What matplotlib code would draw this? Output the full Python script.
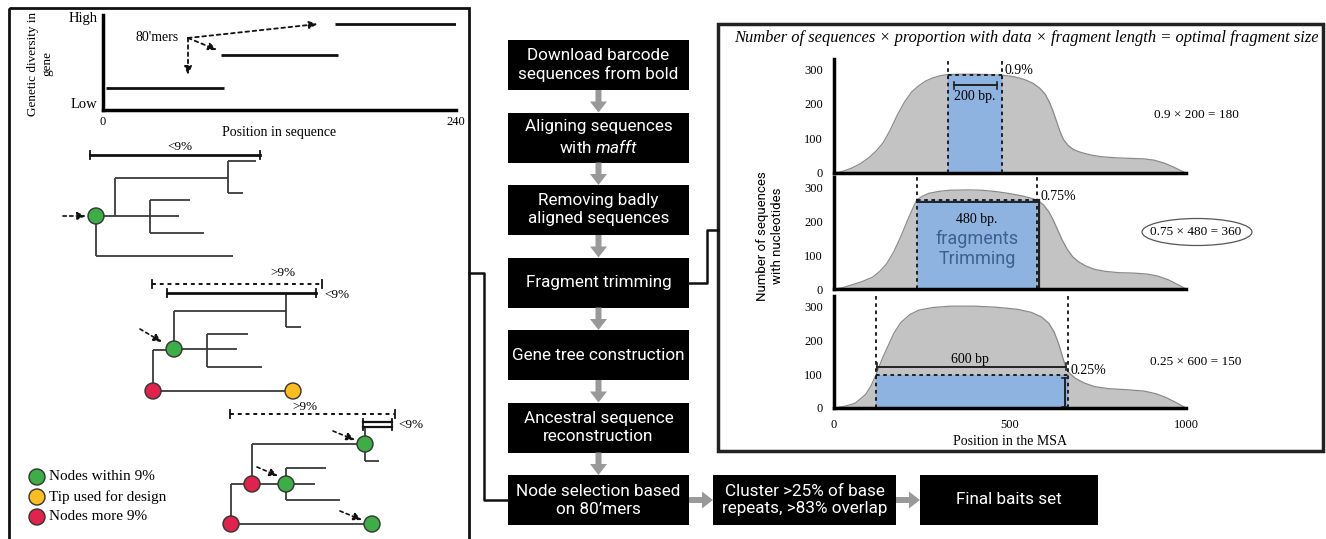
import matplotlib
matplotlib.use("Agg")
import matplotlib.pyplot as plt
from matplotlib.patches import Rectangle, Circle, Ellipse

W, H = 1326, 539
SERIF = "Liberation Serif"
SANS = "Roboto"

plt.rcParams["font.family"] = [SERIF, "DejaVu Serif"]
plt.rcParams["mathtext.fontset"] = "custom"
plt.rcParams["mathtext.rm"] = SANS
plt.rcParams["mathtext.it"] = SANS + ":italic"

# ---------------- data ----------------
# top-left: genetic diversity of three 80'mers along a 240 bp sequence
SEG_START = [2, 80, 158]
SEG_END = [82, 160, 240]
SEG_LEVEL = [0.23, 0.58, 0.905]
SEQ_TICKS = [0, 240]

# coverage curves (position in MSA, number of sequences)
POS_A = [0, 25, 50, 75, 100, 120, 140, 160, 180, 200, 220, 240, 260, 280, 300, 322, 360, 400,
         440, 478, 510, 540, 565, 585, 600, 612, 622, 632, 642, 652, 665, 680, 700, 730, 760,
         800, 850, 880, 910, 940, 965, 985, 1000]
CNT_A = [0, 5, 14, 27, 45, 64, 88, 125, 168, 205, 234, 252, 266, 275, 281, 285, 286, 286,
         285, 283, 279, 271, 260, 245, 228, 205, 180, 150, 120, 97, 80, 68, 60, 52, 47,
         44, 42, 41, 37, 28, 17, 7, 0]
POS_B = [0, 25, 50, 80, 110, 130, 150, 170, 190, 210, 225, 235, 250, 270, 300, 330, 380, 420,
         460, 500, 540, 578, 595, 610, 622, 635, 648, 662, 678, 695, 715, 740, 770, 810, 850,
         890, 920, 950, 975, 1000]
CNT_B = [0, 4, 12, 22, 35, 52, 75, 110, 155, 205, 240, 262, 273, 282, 288, 291, 292, 291,
         287, 281, 273, 262, 248, 228, 205, 175, 145, 118, 95, 80, 68, 58, 52, 48, 47,
         44, 38, 27, 14, 0]
POS_C = [0, 30, 60, 90, 105, 119, 135, 150, 170, 190, 215, 240, 280, 330, 400, 460, 520, 560,
         590, 610, 625, 638, 648, 657, 667, 685, 710, 740, 780, 830, 880, 915, 945, 970, 1000]
CNT_C = [0, 5, 14, 40, 65, 97, 140, 175, 220, 252, 275, 288, 296, 300, 300, 297, 291, 282,
         268, 250, 225, 190, 155, 125, 105, 88, 74, 63, 57, 54, 50, 42, 30, 17, 0]

# trimming windows: start, end, proportion height
WIN_START = [323, 235, 119]
WIN_END = [476, 578, 665]
WIN_TOP = [285, 262, 97]
WIN_LEN = ["200 bp.", "480 bp.", "600 bp"]
WIN_PROP = ["0.9%", "0.75%", "0.25%"]
EQUATIONS = ["0.9 × 200 = 180", "0.75 × 480 = 360", "0.25 × 600 = 150"]
MSA_TICKS = [0, 500, 1000]
COUNT_TICKS = [0, 100, 200, 300]

# flowchart
STEPS = ["Download barcode\nsequences from bold",
         "Aligning sequences\nwith $\\mathit{mafft}$",
         "Removing badly\naligned sequences",
         "Fragment trimming",
         "Gene tree construction",
         "Ancestral sequence\nreconstruction",
         "Node selection based\non 80\u2019mers"]
TAIL_STEPS = ["Cluster >25% of base\nrepeats, >83% overlap", "Final baits set"]

# gene trees (pixel layout of the schematic): branches, nodes, pointer arrows
TREE_EDGES = [
    # tree 1
    (96, 216, 179, 216), (115, 178, 115, 216), (115, 178, 228, 178), (228, 161, 228, 193),
    (228, 161, 256, 161), (228, 193, 243, 193), (150, 200, 150, 233), (150, 200, 190, 200),
    (150, 233, 204, 233), (96, 216, 96, 256), (96, 256, 233, 256),
    # tree 2
    (286, 293, 286, 327), (286, 327, 301, 327), (174, 311, 286, 311), (174, 311, 174, 349),
    (174, 349, 237, 349), (207, 334, 207, 367), (207, 334, 248, 334), (207, 367, 262, 367),
    (153, 350, 174, 350), (153, 350, 153, 391), (153, 391, 293, 391),
    # tree 3
    (365, 427, 365, 461), (365, 461, 379, 461), (252, 444, 365, 444), (252, 444, 252, 484),
    (231, 484, 286, 484), (286, 468, 286, 500), (286, 468, 326, 468), (286, 484, 315, 484),
    (286, 500, 340, 500), (231, 484, 231, 524), (231, 524, 372, 524),
]
NODE_X = [96, 174, 153, 293, 365, 252, 286, 231, 372]
NODE_Y = [216, 349, 391, 391, 444, 484, 484, 524, 524]
NODE_KIND = ["within", "within", "more", "tip", "within", "more", "within", "more", "within"]
POINTERS = [(63, 216, 86, 216), (140, 329, 162, 342), (333, 431, 355, 440),
            (257, 467, 278, 476), (340, 511, 362, 520)]
# scale bars: x0, x1, y, dotted?, label, label x, label y, ha
BARS = [(90, 260, 155, False, "<9%", 180, 147, "center"),
        (152, 322, 284, True, ">9%", 283, 273, "center"),
        (167, 316, 293, False, "<9%", 324, 295, "left"),
        (230, 395, 414, True, ">9%", 305, 407, "center")]
LEGEND = [("within", "Nodes within 9%"), ("tip", "Tip used for design"), ("more", "Nodes more 9%")]
NODE_COLORS = {"within": "#3DAE45", "tip": "#FDBD21", "more": "#E0224C"}

DOTTED = (0, (2, 2))
BLUE = "#8FB3E0"
GREY = "#C3C3C3"

fig = plt.figure(figsize=(W / 100, H / 100), dpi=100)
ax = fig.add_axes([0, 0, 1, 1])
ax.set_xlim(0, W)
ax.set_ylim(H, 0)
ax.axis("off")


def px_axes(x0, y0, x1, y1):
    a = fig.add_axes([x0 / W, 1 - y1 / H, (x1 - x0) / W, (y1 - y0) / H])
    a.set_facecolor("none")
    return a


# ---------------- frames and connectors ----------------
ax.add_patch(Rectangle((9, 8), 460, 560, fill=False, ec="#111", lw=2))
ax.add_patch(Rectangle((718, 24), 605, 427, fill=False, ec="#222", lw=2.5))
ax.plot([469, 484, 484, 508], [273, 273, 500, 500], color="#111", lw=1.8)
ax.plot([689, 707, 707, 718], [283, 283, 230, 230], color="#111", lw=1.8)

# ---------------- top-left diversity chart ----------------
ad = px_axes(103, 15, 456, 110)
ad.hlines(SEG_LEVEL, SEG_START, SEG_END, color="#111", lw=2)
ad.set_xlim(0, 240)
ad.set_ylim(0, 1)
ad.set_xticks(SEQ_TICKS)
ad.set_xticklabels([str(t) for t in SEQ_TICKS], fontsize=9)
ad.set_yticks([0.07, 0.98])
ad.set_yticklabels(["Low", "High"], fontsize=10.5)
ad.tick_params(length=0, pad=4)
ad.set_xlabel("Position in sequence", fontsize=10, labelpad=-1)
for s in ["top", "right"]:
    ad.spines[s].set_visible(False)
for s in ["left", "bottom"]:
    ad.spines[s].set_linewidth(2.5)
ad.text(37, 0.758, "80'mers", fontsize=10, ha="center", va="center")
for tx, ty in [(146, 0.905), (77.5, 0.632), (57.8, 0.368)]:
    ad.annotate("", xy=(tx, ty), xytext=(57.8, 0.758),
                arrowprops=dict(arrowstyle="-|>,head_length=0.5,head_width=0.22",
                                color="#111", lw=1.3, linestyle=DOTTED, shrinkA=0, shrinkB=0))
ax.text(40, 64, "Genetic diversity in\ngene", rotation=90, fontsize=9.5,
        ha="center", va="center", multialignment="center", linespacing=1.2)

# ---------------- gene trees ----------------
for x0, y0, x1, y1 in TREE_EDGES:
    ax.plot([x0, x1], [y0, y1], color="#3a3a3a", lw=1.3, solid_capstyle="butt")
for x0, x1, y, dotted, lab, lx, ly, ha in BARS:
    ax.plot([x0, x1], [y, y], color="#111", lw=1.4 if dotted else 2,
            linestyle=DOTTED if dotted else "-")
    for xe in (x0, x1):
        ax.plot([xe, xe], [y - 4, y + 4], color="#111", lw=1.3)
    ax.text(lx, ly, lab, fontsize=9.5, ha=ha, va="center")
# small double bar on tree 3
ax.plot([363, 392], [422, 422], color="#111", lw=1.6)
ax.plot([363, 392], [427, 427], color="#111", lw=1.6)
for xe in (363, 392):
    ax.plot([xe, xe], [419, 430], color="#111", lw=1.3)
ax.text(398, 425, "<9%", fontsize=9.5, ha="left", va="center")

for x, y, k in zip(NODE_X, NODE_Y, NODE_KIND):
    ax.add_patch(Circle((x, y), 8, fc=NODE_COLORS[k], ec="#333", lw=1, zorder=4))
for x0, y0, x1, y1 in POINTERS:
    ax.annotate("", xy=(x1, y1), xytext=(x0, y0),
                arrowprops=dict(arrowstyle="-|>,head_length=0.5,head_width=0.22",
                                color="#111", lw=1.2, linestyle=DOTTED, shrinkA=0, shrinkB=0))
for i, (k, lab) in enumerate(LEGEND):
    y = 477 + 20 * i
    ax.add_patch(Circle((37, y), 8, fc=NODE_COLORS[k], ec="#333", lw=1, zorder=4))
    ax.text(49, y, lab, fontsize=11, ha="left", va="center")

# ---------------- flowchart ----------------
BOX_X0, BOX_X1, BOX_H, BOX_STEP, BOX_Y0 = 508, 689, 50, 72.5, 40
arrow_kw = dict(width=6, head_width=17, head_length=11, length_includes_head=True,
                fc="#999999", ec="none")
for i, lab in enumerate(STEPS):
    y0 = BOX_Y0 + i * BOX_STEP
    ax.add_patch(Rectangle((BOX_X0, y0), BOX_X1 - BOX_X0, BOX_H, fc="black", ec="none"))
    ax.text((BOX_X0 + BOX_X1) / 2, y0 + BOX_H / 2, lab, color="white", fontsize=12.3,
            family=SANS, ha="center", va="center", multialignment="center", linespacing=1.25)
    if i < len(STEPS) - 1:
        ax.arrow((BOX_X0 + BOX_X1) / 2, y0 + BOX_H, 0, BOX_STEP - BOX_H, **arrow_kw)
yb = BOX_Y0 + (len(STEPS) - 1) * BOX_STEP
tail_boxes = [(713, 896), (920, 1098)]
prev_x1 = BOX_X1
for (x0, x1), lab in zip(tail_boxes, TAIL_STEPS):
    ax.arrow(prev_x1, yb + BOX_H / 2, x0 - prev_x1, 0, **arrow_kw)
    ax.add_patch(Rectangle((x0, yb), x1 - x0, BOX_H, fc="black", ec="none"))
    ax.text((x0 + x1) / 2, yb + BOX_H / 2, lab, color="white", fontsize=12.3,
            family=SANS, ha="center", va="center", multialignment="center", linespacing=1.25)
    prev_x1 = x1

# ---------------- fragment size panels ----------------
ax.text(1026, 38, "Number of sequences × proportion with data × fragment length = optimal fragment size",
        fontsize=11.9, style="italic", ha="center", va="center")
panel_rows = [(59, 173), (177, 289), (296, 408)]
curves = [(POS_A, CNT_A), (POS_B, CNT_B), (POS_C, CNT_C)]
eq_y = [115, 232, 362]
for i, ((y0, y1), (xs, ys)) in enumerate(zip(panel_rows, curves)):
    ap = px_axes(834, y0, 1186, y1)
    ap.fill_between(xs, ys, color=GREY, lw=0, zorder=1)
    ap.plot(xs, ys, color="#8a8a8a", lw=0.9, zorder=1.5, solid_joinstyle="round")
    lo, hi, top = WIN_START[i], WIN_END[i], WIN_TOP[i]
    ap.add_patch(Rectangle((lo, 0), hi - lo, top, fc=BLUE, ec="none", zorder=2))
    ap.axvline(lo, color="#111", lw=1.3, linestyle=DOTTED, zorder=3)
    ap.axvline(hi, color="#111", lw=1.3, linestyle=DOTTED, zorder=3)
    ap.hlines(top, lo, hi, color="#111", lw=1.3, linestyle=DOTTED, zorder=3)
    ap.set_xlim(0, 1000)
    ap.set_ylim(0, 330)
    ap.set_yticks(COUNT_TICKS)
    ap.set_yticklabels([str(t) for t in COUNT_TICKS], fontsize=9)
    ap.tick_params(length=0, pad=8)
    for s in ["top", "right"]:
        ap.spines[s].set_visible(False)
    for s in ["left", "bottom"]:
        ap.spines[s].set_linewidth(2.5)
        ap.spines[s].set_zorder(5)
    if i < 2:
        ap.set_xticks([])
    else:
        ap.set_xticks(MSA_TICKS)
        ap.set_xticklabels([str(t) for t in MSA_TICKS], fontsize=9)
        ap.set_xlabel("Position in the MSA", fontsize=10, labelpad=3)
    if i == 0:
        ap.plot([lo + 18, hi - 14], [254, 254], color="#222", lw=1.4, zorder=4)
        for xe in (lo + 18, hi - 14):
            ap.plot([xe, xe], [244, 264], color="#222", lw=1.2, zorder=4)
        ap.text((lo + hi) / 2, 222, WIN_LEN[i], fontsize=10, ha="center", va="center", zorder=4)
        ap.text(hi + 8, 296, WIN_PROP[i], fontsize=10, ha="left", va="center")
    elif i == 1:
        ap.plot([lo, hi], [255, 255], color="#222", lw=1.4, zorder=4)
        ap.plot([hi + 4, hi + 4], [0, top], color="#222", lw=1.6, zorder=4)
        ap.text((lo + hi) / 2, 205, WIN_LEN[i], fontsize=10, ha="center", va="center", zorder=4)
        ap.text((lo + hi) / 2, 148, "fragments", fontsize=13, family=SANS, color="#3f5f8f",
                ha="center", va="center", zorder=4)
        ap.text((lo + hi) / 2, 88, "Trimming", fontsize=13, family=SANS, color="#3f5f8f",
                ha="center", va="center", zorder=4)
        ap.text(hi + 10, top + 12, WIN_PROP[i], fontsize=10, ha="left", va="center")
    else:
        ap.plot([lo + 4, hi - 6], [122, 122], color="#222", lw=1.4, zorder=4)
        for xe in (lo + 4, hi - 6):
            ap.plot([xe, xe], [112, 132], color="#222", lw=1.2, zorder=4)
        ap.plot([hi - 10, hi - 10], [2, 88], color="#222", lw=1.4, zorder=4)
        for ye in (2, 88):
            ap.plot([hi - 18, hi - 2], [ye, ye], color="#222", lw=1.2, zorder=4)
        ap.text(385, 142, WIN_LEN[i], fontsize=10, ha="center", va="center", zorder=4)
        ap.text(hi + 8, 110, WIN_PROP[i], fontsize=10, ha="left", va="center")
    ax.text(1196, eq_y[i], EQUATIONS[i], fontsize=9.5, ha="center", va="center")

ax.add_patch(Ellipse((1197, 232), 110, 27, fill=False, ec="#555", lw=0.9))
ax.text(770, 236, "Number of sequences\nwith nucleotides", rotation=90, fontsize=9.5,
        family=SANS, ha="center", va="center", multialignment="center", linespacing=1.2)

fig.savefig("out.png", dpi=100)
